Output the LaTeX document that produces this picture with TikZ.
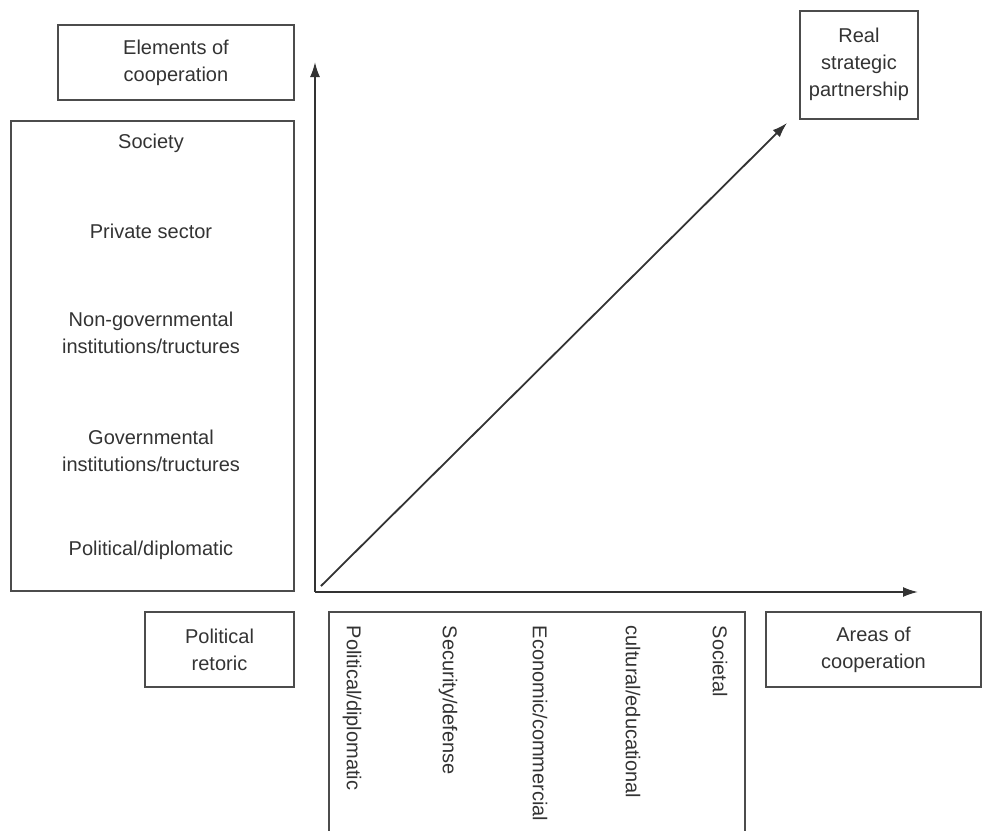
\documentclass[tikz,border=0pt]{standalone}
\usepackage{fontspec}
\setmainfont{Liberation Sans}
\usetikzlibrary{positioning, arrows.meta}

\begin{document}
\begin{tikzpicture}[x=0.5pt, y=-0.5pt, line width=0.8pt, draw=black!70, text=black!80,
	font=\fontsize{10}{13.5}\selectfont,
	box/.style = {draw=black!70, align=center, inner sep=0pt},
	lbl/.style = {align=center, inner sep=0pt},
	vlbl/.style = {rotate=-90, anchor=west, inner sep=0pt},
	axis/.style = {draw=black!80, line width=0.9pt, -{Latex[length=7.5pt,width=5pt]}}]
	\useasboundingbox (0,0) rectangle (982,831);
	% boxes
	\node[box, minimum width=118pt, minimum height=37.5pt] (elem) at (176,62.5) {Elements of\\cooperation};
	\node[box, minimum width=141.5pt, minimum height=235pt] (levels) at (152.5,356) {};
	\node[box, minimum width=59pt, minimum height=54pt, anchor=north] (rsp) at (859,10) {Real\\strategic\\partnership};
	\node[box, minimum width=74.5pt, minimum height=37.5pt] (retoric) at (219.5,649.5) {Political\\retoric};
	\node[box, minimum width=107.5pt, minimum height=37.5pt] (areas) at (873.5,649.5) {Areas of\\cooperation};
	\node[box, minimum width=208pt, minimum height=114pt] (areabox) at (537,726) {};
	% elements of cooperation
	\node[lbl] (society) at (151,143) {Society};
	\node[lbl] (private) at (151,231) {Private sector};
	\node[lbl] (nongov) at (151,333) {Non-governmental\\institutions/tructures};
	\node[lbl] (gov) at (151,451) {Governmental\\institutions/tructures};
	\node[lbl] (poldip) at (151,550) {Political/diplomatic};
	% areas of cooperation
	\node[vlbl] (apol) at (352,625) {Political/diplomatic};
	\node[vlbl] (asec) at (448,625) {Security/defense};
	\node[vlbl] (aeco) at (540,625) {Economic/commercial};
	\node[vlbl] (acul) at (633,625) {cultural/educational};
	\node[vlbl] (asoc) at (720,625) {Societal};
	% axes
	\coordinate (origin) at (315,592);
	\coordinate (ytip) at (315,62);
	\coordinate (xtip) at (918,592);
	\coordinate (dstart) at (321,586);
	\coordinate (dtip) at (787,123);
	\draw[axis] (origin) -- (ytip);
	\draw[axis] (origin) -- (xtip);
	\draw[axis] (dstart) -- (dtip);
\end{tikzpicture}
\end{document}
